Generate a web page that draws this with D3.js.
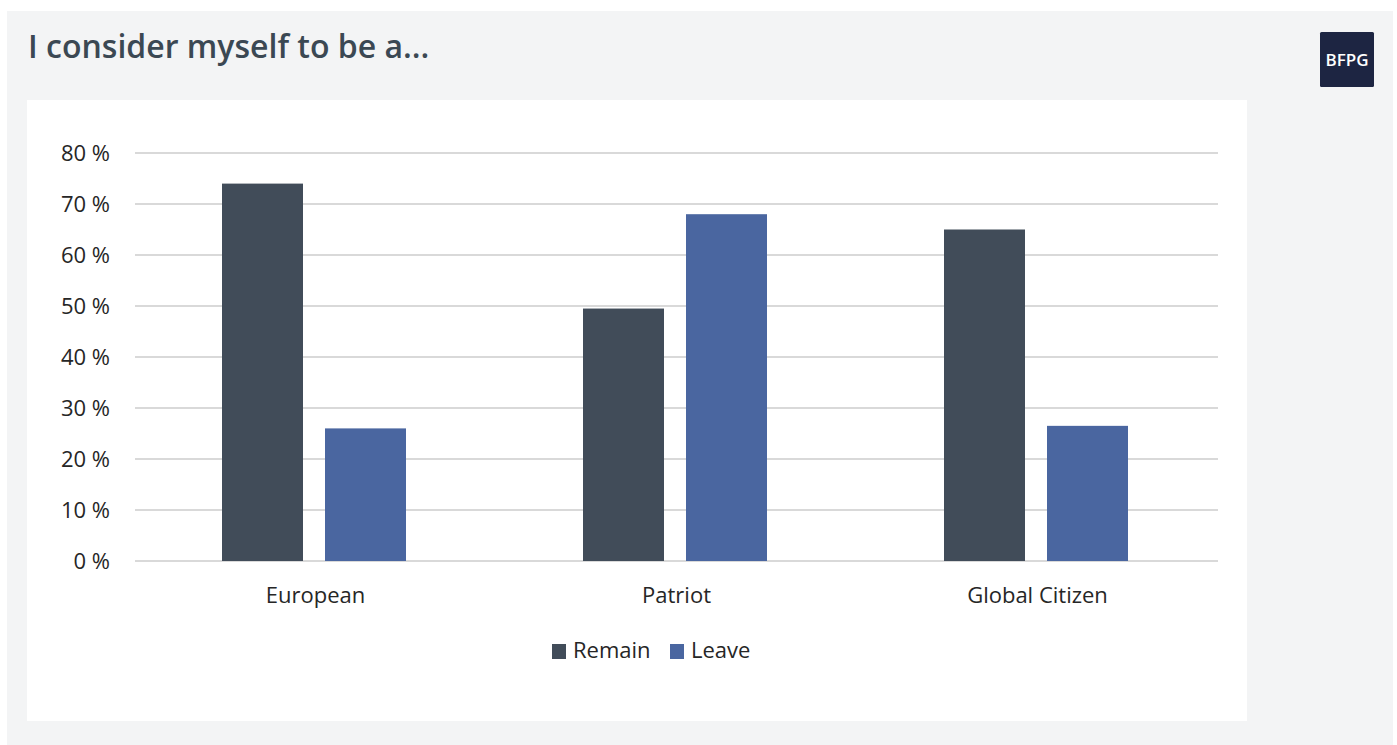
<!DOCTYPE html>
<html><head><meta charset="utf-8">
<script src="https://cdn.jsdelivr.net/npm/d3@7"></script>
<style>
html,body{margin:0;padding:0;background:#fff;}
svg{display:block;}
</style></head>
<body>
<svg id="chart" width="1397" height="745"></svg>
<script>
const categories = ["European", "Patriot", "Global Citizen"];
const seriesNames = ["Remain", "Leave"];
const remainValues = [74, 49.5, 65];
const leaveValues = [26, 68, 26.5];
const yTicks = [0, 10, 20, 30, 40, 50, 60, 70, 80];
const colors = ["#414c59", "#4a66a0"];

const svg = d3.select("#chart");
// panel
svg.append("rect").attr("x", 7).attr("y", 11).attr("width", 1386).attr("height", 734).attr("fill", "#f3f4f5");
svg.append("rect").attr("x", 27).attr("y", 100).attr("width", 1220).attr("height", 621).attr("fill", "#ffffff");

svg.append("text").attr("x", 28).attr("y", 58)
  .attr("font-family", "Open Sans").attr("font-weight", 600).attr("font-size", 32)
  .attr("fill", "#3b4853").text("I consider myself to be a...");

// logo
svg.append("rect").attr("x", 1320).attr("y", 32).attr("width", 54).attr("height", 55).attr("rx", 1.5).attr("fill", "#1d2542");
svg.append("text").attr("x", 1347).attr("y", 66).attr("text-anchor", "middle")
  .attr("font-family", "Open Sans").attr("font-weight", 600).attr("font-size", 17)
  .attr("fill", "#ffffff").text("BFPG");

const x0 = d3.scaleBand().domain(categories).range([135, 1218]).paddingInner(0).paddingOuter(0);
const x1 = d3.scaleBand().domain(seriesNames).range([87, 87 + 184]).paddingInner(22/103).paddingOuter(0);
const y = d3.scaleLinear().domain([0, 80]).range([561, 153]);

const gAxis = svg.append("g").attr("transform", "translate(135,0)")
  .call(d3.axisLeft(y).tickValues(yTicks).tickSize(0).tickPadding(25).tickFormat(d => d + " %"));
gAxis.select(".domain").remove();
gAxis.selectAll("text").attr("font-family", "Open Sans").attr("font-size", 22).attr("fill", "#262626")
  .attr("dy", "0.36em");

// gridlines
svg.append("g").selectAll("line").data(yTicks).join("line")
  .attr("x1", 135).attr("x2", 1218)
  .attr("y1", d => y(d)).attr("y2", d => y(d))
  .attr("stroke", "#d9d9d9").attr("stroke-width", 2);

const data = categories.map((c, i) => ({cat: c, vals: [remainValues[i], leaveValues[i]]}));
const groups = svg.append("g").selectAll("g").data(data).join("g")
  .attr("transform", d => `translate(${x0(d.cat)},0)`);
groups.selectAll("rect").data(d => d.vals.map((v, j) => ({s: seriesNames[j], v, j}))).join("rect")
  .attr("x", d => x1(d.s)).attr("width", x1.bandwidth())
  .attr("y", d => y(d.v)).attr("height", d => y(0) - y(d.v))
  .attr("fill", d => colors[d.j]);

// x axis labels
const xAxis = svg.append("g").attr("transform", "translate(0,561)")
  .call(d3.axisBottom(x0).tickSize(0).tickPadding(26));
xAxis.select(".domain").remove();
xAxis.selectAll("text").attr("font-family", "Open Sans").attr("font-size", 22).attr("fill", "#262626");

// legend
const legendItems = [{name: "Remain", x: 552}, {name: "Leave", x: 670}];
const lg = svg.append("g").selectAll("g").data(legendItems).join("g")
  .attr("transform", d => `translate(${d.x},644)`);
lg.append("rect").attr("width", 14).attr("height", 15).attr("fill", (d, i) => colors[i]);
lg.append("text").attr("x", 21).attr("y", 14).attr("font-family", "Open Sans").attr("font-size", 22)
  .attr("fill", "#262626").text(d => d.name);
</script>
</body></html>
